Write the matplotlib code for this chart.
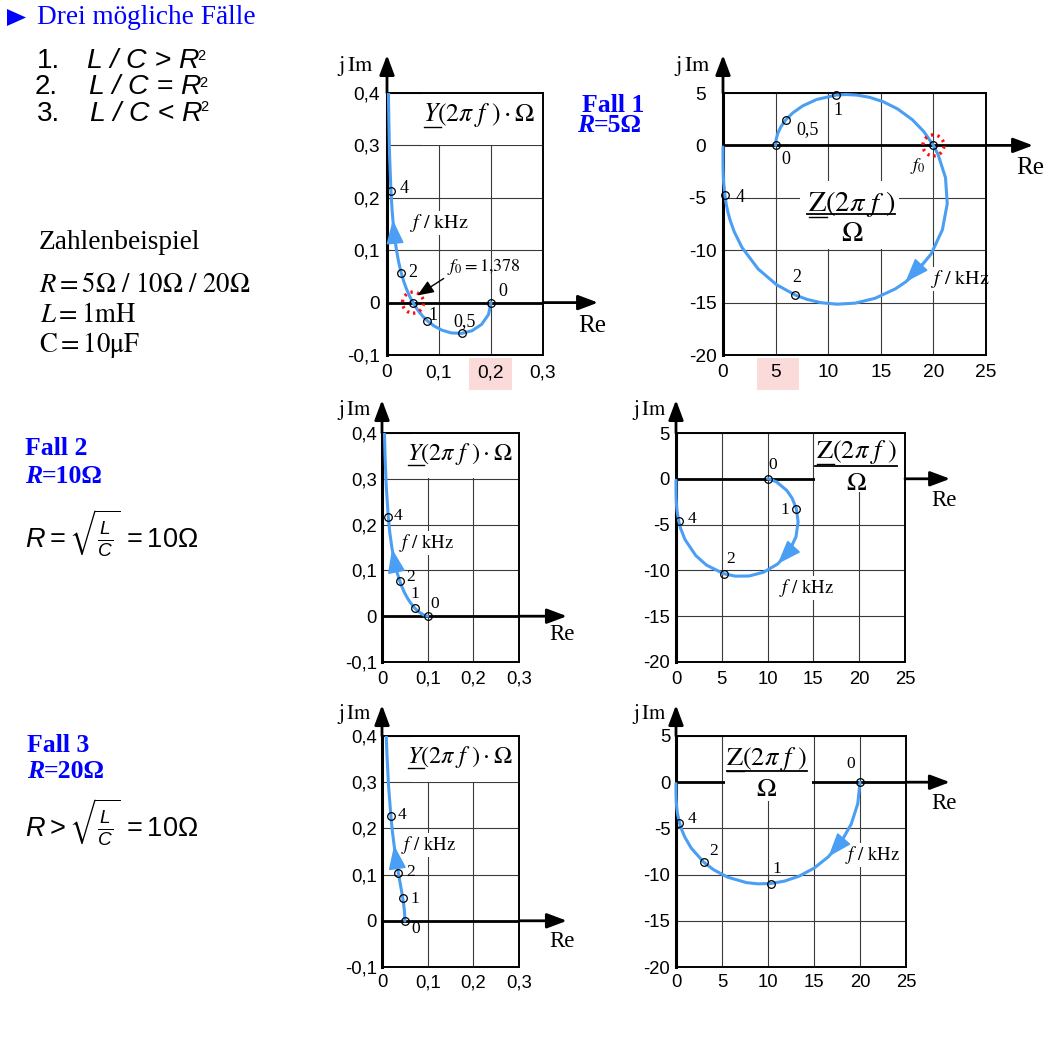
import matplotlib
matplotlib.use("Agg")
import matplotlib.pyplot as plt
from matplotlib.patches import Rectangle, Polygon, FancyArrowPatch
from matplotlib.lines import Line2D
from matplotlib.transforms import blended_transform_factory, Bbox, TransformedBbox

plt.rcParams['font.family'] = ['Liberation Sans', 'DejaVu Sans']
plt.rcParams['mathtext.fontset'] = 'custom'
plt.rcParams['mathtext.rm'] = 'Liberation Sans'
plt.rcParams['mathtext.it'] = 'Liberation Sans:italic'
plt.rcParams['mathtext.bf'] = 'Liberation Sans:bold'
plt.rcParams['mathtext.fallback'] = 'stix'
plt.rcParams['axes.unicode_minus'] = False

# ---------------------------------------------------------------- data
# Fall 1, R = 5 Ohm  (f in kHz, Z in Ohm, Y in S)
f_R5 = [0, 0.125, 0.25, 0.375, 0.5, 0.625, 0.75, 0.875, 1.0, 1.05, 1.1, 1.15, 1.2, 1.25, 1.3, 1.34,
        1.378, 1.4, 1.45, 1.5, 1.55, 1.6, 1.65, 1.675, 1.7, 1.75, 1.8, 1.85, 1.9, 1.95, 2.0, 2.1,
        2.25, 2.5, 2.75, 3.0, 3.25, 3.5, 4.0, 5, 6, 6.75, 8, 10, 15, 30, 100]
zre_R5 = [5, 5.054, 5.222, 5.519, 5.974, 6.632, 7.568, 8.890, 10.753, 11.689, 12.748, 13.931, 15.229, 16.610, 18.014, 19.086,
          20.0, 20.440, 21.151, 21.317, 20.853, 19.780, 18.228, 17.332, 16.389, 14.453, 12.573, 10.844, 9.310, 7.981, 6.848, 5.080,
          3.340, 1.805, 1.066, 0.675, 0.451, 0.314, 0.168, 0.062, 0.028, 0.017, 0.008, 0.003, 0.001, 0.0, 0.0]
zim_R5 = [0, 0.591, 1.190, 1.806, 2.445, 3.103, 3.766, 4.377, 4.800, 4.855, 4.798, 4.588, 4.168, 3.474, 2.437, 1.322,
          0.0, -0.855, -3.084, -5.555, -8.061, -10.366, -12.276, -13.046, -13.686, -14.590, -15.048, -15.155, -15.008, -14.691, -14.269, -13.284,
          -11.793, -9.739, -8.238, -7.134, -6.297, -5.643, -4.688, -3.531, -2.849, -2.495, -2.071, -1.633, -1.073, -0.532, -0.159]
yre_R5 = [0.2, 0.1952, 0.1820, 0.1637, 0.1434, 0.1237, 0.1059, 0.0905, 0.0775, 0.0730, 0.0687, 0.0648, 0.0611, 0.0577, 0.0545, 0.0521,
          0.0500, 0.0488, 0.0463, 0.0439, 0.0417, 0.0397, 0.0377, 0.0368, 0.0360, 0.0343, 0.0327, 0.0312, 0.0299, 0.0286, 0.0273, 0.0251,
          0.0222, 0.0184, 0.0155, 0.0131, 0.0113, 0.0098, 0.0076, 0.0049, 0.0035, 0.0027, 0.0020, 0.0013, 0.0006, 0.0001, 0.0]
yim_R5 = [0, -0.0228, -0.0415, -0.0536, -0.0587, -0.0579, -0.0527, -0.0446, -0.0346, -0.0303, -0.0259, -0.0213, -0.0167, -0.0121, -0.0074, -0.0036,
          0.0, 0.0020, 0.0068, 0.0114, 0.0161, 0.0208, 0.0254, 0.0277, 0.0300, 0.0346, 0.0391, 0.0436, 0.0481, 0.0526, 0.0570, 0.0657,
          0.0785, 0.0993, 0.1194, 0.1389, 0.1580, 0.1767, 0.2131, 0.2831, 0.3509, 0.4009, 0.4830, 0.6125, 0.9319, 1.8797, 6.283]

# Fall 2, R = 10 Ohm
f_R10 = [0, 0.25, 0.5, 0.75, 0.875, 1.0, 1.125, 1.25, 1.375, 1.5, 1.625, 1.75, 1.875, 2.0, 2.25, 2.5,
         3.0, 3.5, 4.0, 5, 6, 6.75, 8, 10, 15, 30, 100]
zre_R10 = [10, 10.247, 10.976, 12.088, 12.673, 13.139, 13.333, 13.095, 12.335, 11.102, 9.576, 7.983, 6.500, 5.223, 3.338, 2.164,
           0.993, 0.511, 0.289, 0.113, 0.053, 0.033, 0.016, 0.007, 0.001, 0.0, 0.0]
zim_R10 = [0, -0.040, -0.340, -1.265, -2.106, -3.259, -4.709, -6.344, -7.954, -9.294, -10.193, -10.612, -10.629, -10.365, -9.431, -8.388,
           -6.650, -5.440, -4.591, -3.502, -2.838, -2.489, -2.068, -1.632, -1.073, -0.532, -0.159]
yre_R10 = [0.1, 0.0976, 0.0910, 0.0818, 0.0768, 0.0717, 0.0667, 0.0619, 0.0573, 0.0530, 0.0490, 0.0453, 0.0419, 0.0388, 0.0334, 0.0288,
           0.0220, 0.0171, 0.0137, 0.0092, 0.0066, 0.0053, 0.0038, 0.0025, 0.0011, 0.0003, 0.0]
yim_R10 = [0, 0.0004, 0.0028, 0.0086, 0.0128, 0.0178, 0.0236, 0.0300, 0.0369, 0.0443, 0.0521, 0.0602, 0.0685, 0.0769, 0.0942, 0.1118,
           0.1471, 0.1822, 0.2170, 0.2853, 0.3522, 0.4018, 0.4835, 0.6128, 0.9320, 1.8797, 6.28]

# Fall 3, R = 20 Ohm
f_R20 = [0, 0.125, 0.25, 0.375, 0.5, 0.625, 0.75, 0.875, 1.0, 1.125, 1.25, 1.5, 1.75, 2.0, 2.5, 3.0,
         3.5, 4.0, 5, 6, 6.75, 8, 10, 15, 30, 100]
zre_R20 = [20, 19.756, 19.048, 17.951, 16.568, 15.013, 13.392, 11.793, 10.281, 8.893, 7.651, 5.609, 4.099, 3.007, 1.664, 0.965,
           0.587, 0.374, 0.169, 0.086, 0.055, 0.029, 0.012, 0.002, 0.0, 0.0]
zim_R20 = [0, -2.332, -4.525, -6.462, -8.065, -9.298, -10.167, -10.706, -10.964, -11.000, -10.866, -10.278, -9.484, -8.651, -7.143, -5.959,
           -5.059, -4.374, -3.422, -2.804, -2.469, -2.059, -1.629, -1.073, -0.532, -0.159]
yre_R20 = [0.05, 0.0499, 0.0497, 0.0493, 0.0488, 0.0481, 0.0474, 0.0465, 0.0455, 0.0444, 0.0433, 0.0409, 0.0384, 0.0358, 0.0309, 0.0265,
           0.0226, 0.0194, 0.0144, 0.0110, 0.0091, 0.0068, 0.0046, 0.0022, 0.0006, 0.0001]
yim_R20 = [0, 0.0059, 0.0118, 0.0178, 0.0238, 0.0298, 0.0360, 0.0422, 0.0485, 0.0550, 0.0615, 0.0750, 0.0889, 0.1031, 0.1328, 0.1635,
           0.1950, 0.2270, 0.2915, 0.3563, 0.4048, 0.4855, 0.6139, 0.9323, 1.8797, 6.28]

# labelled frequencies (kHz)
mark_f_R5_Y = [0, 0.5, 1.0, 1.378, 2.0, 4.0]
mark_lab_R5_Y = ['0', '0,5', '1', '', '2', '4']
mark_f_R5_Z = [0, 0.5, 1.0, 1.378, 2.0, 4.0]
mark_lab_R5_Z = ['0', '0,5', '1', '$f_0$', '2', '4']
mark_f_R10 = [0, 1.0, 2.0, 4.0]
mark_f_R20 = [0, 1.0, 2.0, 4.0]
mark_lab_int = ['0', '1', '2', '4']
f0_text = r'$f_0 = 1{,}378$'

y_xticks = [0, 0.1, 0.2, 0.3]
y_xticklabels = ['0', '0,1', '0,2', '0,3']
y_yticks = [-0.1, 0, 0.1, 0.2, 0.3, 0.4]
y_yticklabels = ['-0,1', '0', '0,1', '0,2', '0,3', '0,4']
z_xticks = [0, 5, 10, 15, 20, 25]
z_xticklabels = ['0', '5', '10', '15', '20', '25']
z_yticks = [-20, -15, -10, -5, 0, 5]
z_yticklabels = ['-20', '-15', '-10', '-5', '0', '5']
z_yticklabels_wide = ['-20', '-15', '-10', '-5  ', '0  ', '5  ']

# ---------------------------------------------------------------- figure
W, H = 1048, 1040
fig = plt.figure(figsize=(W / 100, H / 100), dpi=100)
renderer = fig.canvas.get_renderer()

SERIF = 'Liberation Serif'
SANS = 'Liberation Sans'
CURVE = '#4a9ff5'
TBLUE = '#0000ff'
PINK = '#fbdada'


def FX(x):
    return x / W


def FY(y):
    return 1 - y / H


def ftext(x, y, s, **kw):
    return fig.text(FX(x), FY(y), s, **kw)


def px_rect(ax, x0, y0, x1, y1, color, z, clip=True):
    r = Rectangle((FX(x0), FY(y1)), (x1 - x0) / W, (y1 - y0) / H, transform=fig.transFigure,
                  facecolor=color, edgecolor='none', zorder=z)
    ax.add_patch(r)
    r.set_clip_on(clip)
    return r


def hline_px(x0, x1, y, lw=1.2):
    fig.add_artist(Line2D([FX(x0), FX(x1)], [FY(y), FY(y)], transform=fig.transFigure, color='k', lw=lw))


def underline_first(t, first, fs, dy=2.0):
    ext = t.get_window_extent(renderer)
    tmp = fig.text(0, 0, first, fontsize=fs, math_fontfamily='stix')
    w = tmp.get_window_extent(renderer).width
    tmp.remove()
    yy = ext.y0 + dy
    fig.add_artist(Line2D([(ext.x0 + 1) / W, (ext.x0 + w) / W], [yy / H, yy / H],
                          transform=fig.transFigure, color='k', lw=1.0))


AX_ARROW = dict(arrowstyle='-|>,head_length=1.2,head_width=0.45', mutation_scale=10, lw=2.0,
                color='k', shrinkA=0, shrinkB=0)


def panel(c):
    x0, y0, x1, y1 = c['rect']
    ax = fig.add_axes([FX(x0), FY(y1), (x1 - x0) / W, (y1 - y0) / H])
    ax.set_xlim(c['xlim'])
    ax.set_ylim(c['ylim'])
    ax.set_xticks(c['xticks'])
    ax.set_xticklabels(c['xticklabels'])
    ax.set_yticks(c['yticks'])
    ax.set_yticklabels(c['yticklabels'])
    ax.set_axisbelow(True)
    ax.grid(True, color='#3a3a3a', lw=0.8)
    ax.tick_params(length=0, labelsize=c['tfs'])
    ax.tick_params(axis='x', pad=c['xpad'])
    ax.tick_params(axis='y', pad=c['ypad'])
    for lab in ax.get_xticklabels() + ax.get_yticklabels():
        lab.set_fontfamily(SANS)
    for sp in ax.spines.values():
        sp.set_linewidth(1.4)
        sp.set_color('k')
    ax.spines['left'].set_linewidth(2.2)
    ax.axhline(0, color='k', lw=2.0, zorder=1.8)

    # axis arrows
    ax.annotate('', xy=(0, c['vtip']), xytext=(0, 1.0), xycoords='axes fraction',
                textcoords='axes fraction', arrowprops=AX_ARROW, annotation_clip=False)
    bt = blended_transform_factory(ax.transAxes, ax.transData)
    ax.annotate('', xy=(c['htip'], 0), xytext=(1.0, 0), xycoords=bt, textcoords=bt,
                arrowprops=AX_ARROW, annotation_clip=False)

    # white label boxes
    for b in c['boxes']:
        px_rect(ax, *b, 'white', 2.0)
    if c.get('pink'):
        px_rect(ax, *c['pink'], PINK, 0.2, clip=False)

    # curve
    ln, = ax.plot(c['re'], c['im'], color=CURVE, lw=2.2, zorder=3, solid_capstyle='round')
    ln.set_clip_box(TransformedBbox(Bbox([[-0.1, -0.1], [1.1, 1.0]]), ax.transAxes))

    f = c['f']
    it, il = f.index(c['arrow'][0]), f.index(c['arrow'][1])
    ax.annotate('', xy=(c['re'][it], c['im'][it]), xytext=(c['re'][il], c['im'][il]),
                arrowprops=dict(arrowstyle='-|>,head_length=1.5,head_width=0.55', mutation_scale=10,
                                color=CURVE, lw=1.2, shrinkA=0, shrinkB=0), zorder=3.2)

    mre = [c['re'][f.index(v)] for v in c['marks']]
    mim = [c['im'][f.index(v)] for v in c['marks']]
    ax.plot(mre, mim, 'o', ms=5.5, mfc='none', mec='k', mew=0.9, zorder=3.5, clip_on=False)
    for xr, yi, lab, off in zip(mre, mim, c['labels'], c['offsets']):
        if lab:
            ax.annotate(lab, xy=(xr, yi), xytext=off, textcoords='offset pixels', ha='center',
                        va='center', fontsize=c['lfs'], family=SERIF, math_fontfamily='stix',
                        annotation_clip=False, zorder=6)
    if c.get('red'):
        ax.scatter([c['red'][0]], [c['red'][1]], s=230, facecolors='none', edgecolors='#ff1010',
                   linewidths=2.4, linestyles=[(0, (0.7, 1.3))], zorder=4, clip_on=False)

    # axis labels
    jx, jy = c['jim']
    ftext(jx, jy, r'$\mathrm{j\,Im}$', ha='right', va='center', fontsize=c['jfs'], math_fontfamily='stix')
    rx, ry = c['relab']
    ftext(rx, ry, 'Re', ha='center', va='center', fontsize=c['rfs'], family=SERIF)

    # f / kHz
    fx_, fy_ = c['fkhz']
    t = ftext(fx_, fy_, r'$f\ /\ \mathrm{kHz}$', ha='center', va='center', fontsize=c['ffs'],
              math_fontfamily='stix', zorder=6)
    e = t.get_window_extent(renderer)
    px_rect(ax, e.x0 - 2, H - e.y1 - 1, e.x1 + 2, H - e.y0 + 1, 'white', 2.0)

    # title label
    if c['kind'] == 'Y':
        lx, ly = c['title']
        t = ftext(lx, ly, r'$Y(2\pi\ f\ )\cdot\Omega$', ha='center', va='center',
                  fontsize=c['tifs'], math_fontfamily='stix', zorder=6)
        underline_first(t, r'$Y$', c['tifs'])
    else:
        nx, ny, lyy, lx0, lx1, oy = c['title']
        t = ftext(nx, ny, r'$\mathrm{Z}(2\pi\ f\ )$', ha='center', va='center',
                  fontsize=c['tifs'], math_fontfamily='stix', zorder=6)
        underline_first(t, r'$\mathrm{Z}$', c['tifs'])
        hline_px(lx0, lx1, lyy, lw=1.3)
        ftext(nx, oy, r'$\Omega$', ha='center', va='center', fontsize=c['tifs'], math_fontfamily='stix')
    return ax


base_Y = dict(kind='Y', xlim=(0, 0.3), ylim=(-0.1, 0.4), xticks=y_xticks, xticklabels=y_xticklabels,
              yticks=y_yticks, yticklabels=y_yticklabels)
base_Z = dict(kind='Z', xlim=(0, 25), ylim=(-20, 5), xticks=z_xticks, xticklabels=z_xticklabels,
              yticks=z_yticks, yticklabels=z_yticklabels)

panels = [
    dict(base_Y, rect=(387, 93, 543, 355), re=yre_R5, im=yim_R5, f=f_R5, tfs=13.8, xpad=6.5, ypad=5.2,
         vtip=1.145, htip=1.353, jim=(374, 66), relab=(592, 325.5), jfs=16, rfs=18,
         boxes=[(422, 94, 542, 144.5)], pink=(469.3, 358.3, 511.7, 390),
         title=(479, 115), tifs=18.5, fkhz=(439, 223.3), ffs=14.5, lfs=13,
         arrow=(3.25, 3.0), marks=mark_f_R5_Y, labels=mark_lab_R5_Y,
         offsets=[(11.5, 11), (3, 12), (6, 5), None, (12, 0), (13.5, 2)], red=(0.05, 0.0)),
    dict(base_Z, rect=(723, 93, 986, 355), re=zre_R5, im=zim_R5, f=f_R5, tfs=13.8, xpad=6.5, ypad=4.3,
         yticklabels=z_yticklabels_wide,
         vtip=1.145, htip=1.179, jim=(711, 66), relab=(1030.5, 168.5), jfs=16, rfs=18,
         boxes=[(800, 181, 899, 249)], pink=(756.7, 358.3, 799.3, 390),
         title=(852, 204, 214, 806.7, 895, 234), tifs=20.5, fkhz=(960, 279.3), ffs=14.5, lfs=13,
         arrow=(1.675, 1.6), marks=mark_f_R5_Z, labels=mark_lab_R5_Z,
         offsets=[(10, -14), (22, -10), (2, -15), (-16, -21), (2, 17), (15, -3)], red=(20.0, 0.0)),
    dict(base_Y, rect=(382, 433, 519, 662), re=yre_R10, im=yim_R10, f=f_R10, tfs=13.3, xpad=6.2, ypad=3.6,
         vtip=1.144, htip=1.35, jim=(372, 410.5), relab=(561.5, 635), jfs=15, rfs=16.5,
         boxes=[(412, 434, 518, 478.3)],
         title=(460, 454.3), tifs=17.5, fkhz=(426, 543.3), ffs=13.5, lfs=12.5,
         arrow=(3.0, 2.5), marks=mark_f_R10, labels=mark_lab_int,
         offsets=[(7, 12), (0, 14), (11, 4), (10, 1)]),
    dict(base_Z, rect=(676, 433, 905, 662), re=zre_R10, im=zim_R10, f=f_R10, tfs=13.3, xpad=6.2, ypad=4.6,
         vtip=1.144, htip=1.197, jim=(667, 410.5), relab=(943.5, 500), jfs=15, rfs=16.5,
         boxes=[(815, 434, 904, 492)],
         title=(856.7, 452, 465.7, 815, 896.7, 482.5), tifs=19, fkhz=(806.7, 587.7), ffs=13.5, lfs=12.5,
         arrow=(1.5, 1.375), marks=mark_f_R10, labels=mark_lab_int,
         offsets=[(5, 13.5), (-12, -1), (7, 14.5), (13, 1.5)]),
    dict(base_Y, rect=(382, 736, 519, 967), re=yre_R20, im=yim_R20, f=f_R20, tfs=13.3, xpad=5.3, ypad=3.6,
         vtip=1.134, htip=1.35, jim=(372, 714.5), relab=(561.5, 941.5), jfs=15, rfs=16.5,
         boxes=[(412, 737, 518, 781.5)],
         title=(460, 757.3), tifs=17.5, fkhz=(428.5, 845), ffs=13.5, lfs=12.5,
         arrow=(3.0, 2.5), marks=mark_f_R20, labels=mark_lab_int,
         offsets=[(11, -8), (12, -1), (12.5, 1.5), (11.5, 0.5)]),
    dict(base_Z, rect=(676, 736, 906, 967), re=zre_R20, im=zim_R20, f=f_R20, tfs=13.3, xpad=5.3, ypad=4.1,
         vtip=1.134, htip=1.191, jim=(667, 714.5), relab=(943.5, 803.5), jfs=15, rfs=16.5,
         boxes=[(725, 737, 812, 801)],
         title=(766.7, 759, 770.7, 726.7, 806.7, 789.5), tifs=19, fkhz=(872.5, 855), ffs=13.5, lfs=12.5,
         arrow=(0.5, 0.375), marks=mark_f_R20, labels=mark_lab_int,
         offsets=[(-9, 18), (6, 15), (10, 11), (12.5, 3.5)]),
]

axes = [panel(c) for c in panels]

# f0 annotation (Fall 1, admittance)
ftext(447, 270.5, f0_text, ha='left', va='baseline', fontsize=13, math_fontfamily='stix')
fig.add_artist(FancyArrowPatch(
    (FX(446), FY(277)), (FX(415), FY(297)), transform=fig.transFigure,
    arrowstyle='-|>,head_length=1.0,head_width=0.4', mutation_scale=10, lw=1.0, color='k'))

# ---------------------------------------------------------------- left column text
fig.add_artist(Polygon([(FX(7), FY(9)), (FX(7), FY(26)), (FX(26), FY(17.5))], closed=True,
                       transform=fig.transFigure, facecolor=TBLUE, edgecolor='none'))
ftext(37, 24.5, 'Drei mögliche Fälle', ha='left', va='baseline', fontsize=19.6, family=SERIF, color=TBLUE)

cond_num = ['1.', '2.', '3.']
cond_txt = ['L / C > R', 'L / C = R', 'L / C < R']
cond_base = [68, 94.5, 121]
cond_numx = [37, 35, 37]
cond_txtx = [87, 89, 90]
cond_suptop = [49, 76, 100]
for n, s, yb, xn, xt, ys in zip(cond_num, cond_txt, cond_base, cond_numx, cond_txtx, cond_suptop):
    ftext(xn, yb, n, ha='left', va='baseline', fontsize=20, family=SANS)
    t = ftext(xt, yb, s, ha='left', va='baseline', fontsize=20.5, family=SANS, style='italic')
    e = t.get_window_extent(renderer)
    fig.text(e.x1 / W - 2 / W, FY(ys), '2', ha='left', va='top', fontsize=10.5, family=SANS)

ftext(38.3, 249.3, 'Zahlenbeispiel', ha='left', va='baseline', fontsize=19.7, family=SERIF)
ftext(39.3, 291.7, r'$R = 5\Omega\ /\ 10\Omega\ /\ 20\Omega$', ha='left', va='baseline', fontsize=19.3,
      math_fontfamily='stix')
ftext(40, 321.7, r'$L = 1\mathrm{mH}$', ha='left', va='baseline', fontsize=19.3, math_fontfamily='stix')
ftext(38.7, 351.7, r'$\mathrm{C} = 10\mathrm{\mu F}$', ha='left', va='baseline', fontsize=19.3,
      math_fontfamily='stix')


def seq(x, y, parts, **common):
    for s, kw in parts:
        t = ftext(x, y, s, ha='left', va='baseline', **common, **kw)
        x = t.get_window_extent(renderer).x1
    return x


fall_specs = [('Fall 1', 582, 112, '=5Ω', 577, 132),
              ('Fall 2', 25, 455, '=10Ω', 25, 482.7),
              ('Fall 3', 27, 751.7, '=20Ω', 27, 778.3)]
for title, tx, ty, rv, rx, ry in fall_specs:
    ftext(tx, ty, title, ha='left', va='baseline', fontsize=18.5, family=SERIF, weight='bold', color=TBLUE)
    seq(rx, ry, [('R', dict(style='italic')), (rv, {})], fontsize=18.5, family=SERIF,
        weight='bold', color=TBLUE)

ftext(25, 548.3, r'$R = \sqrt{\frac{L}{C}}\, = 10\Omega$', ha='left', va='baseline', fontsize=19.5,
      math_fontfamily='custom')
ftext(25, 836.5, r'$R > \sqrt{\frac{L}{C}}\, = 10\Omega$', ha='left', va='baseline', fontsize=19.5,
      math_fontfamily='custom')

fig.savefig('out.png', dpi=100)
